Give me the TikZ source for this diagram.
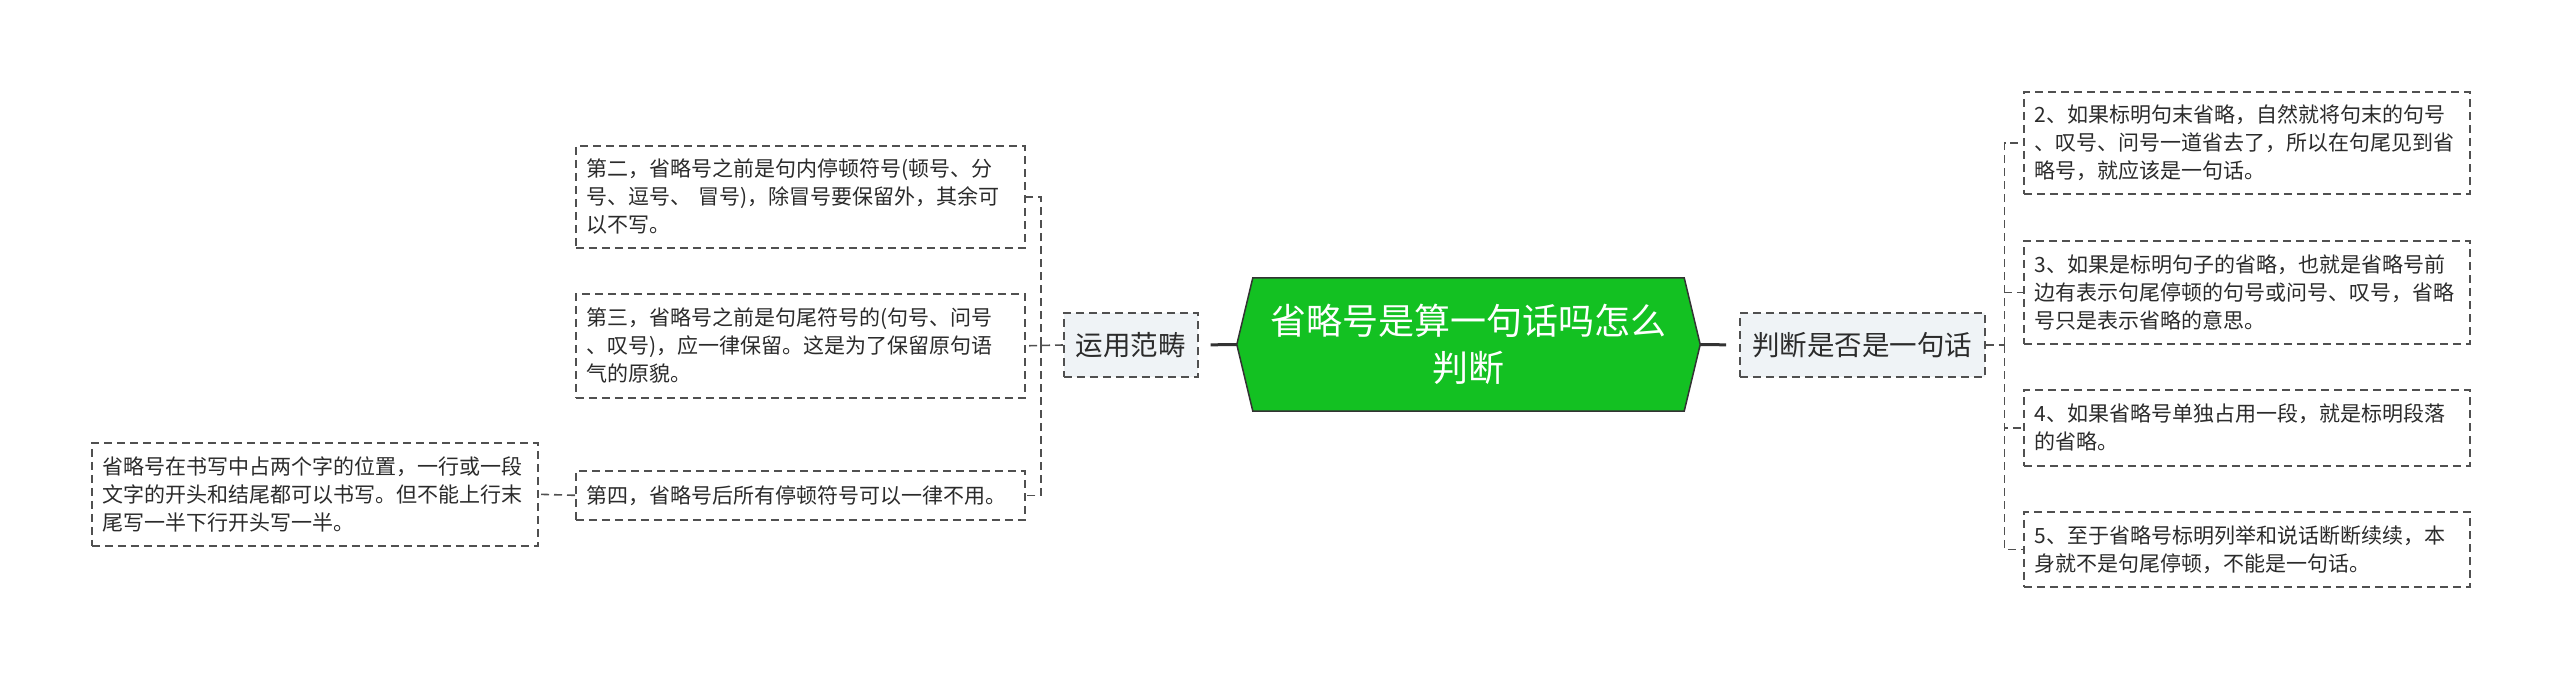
\documentclass[tikz,border=0pt]{standalone}
\usepackage{fontspec}
\newfontfamily\cjk{Noto Sans CJK SC}
\usetikzlibrary{backgrounds,calc}
\definecolor{lineC}{HTML}{505050}
\definecolor{txtC}{HTML}{2B2B2B}
\definecolor{hexG}{HTML}{13C122}
\definecolor{subF}{HTML}{EFF3F6}
\definecolor{mainC}{HTML}{333333}
\begin{document}
\begin{tikzpicture}[x=1pt,y=-1pt,
  leaf/.style={draw=lineC, line width=1.6pt, dash pattern=on 8pt off 5pt,
    anchor=north west, align=left, inner xsep=11pt, inner ysep=0pt,
    text=txtC, font=\cjk\fontsize{21}{28}\selectfont},
  sub/.style={draw=lineC, line width=1.6pt, dash pattern=on 8pt off 5pt,
    fill=subF, text=txtC, font=\cjk\fontsize{27.5}{33}\selectfont,
    minimum height=64pt, inner sep=0pt, anchor=west},
  conn/.style={draw=lineC, line width=1.6pt, dash pattern=on 8pt off 5pt},
  mainl/.style={draw=mainC, line width=3pt}]
\useasboundingbox (0,0) rectangle (2560,677);

% centre
\node[font=\cjk\fontsize{36}{47}\selectfont, text=white, align=center,
  minimum width=431pt, minimum height=133pt, inner sep=0pt] (c) at (1468.5,344.5)
  {省略号是算一句话吗怎么\\判断};
\coordinate (cl) at ($(c.west)+(-16,0)$);
\coordinate (cr) at ($(c.east)+(16,0)$);
\begin{scope}[on background layer]
  \fill[white] (0,0) rectangle (2560,677);
  \draw[fill=hexG, draw=mainC, line width=1.5pt] (c.north west) -- (c.north east) -- (cr)
    -- (c.south east) -- (c.south west) -- (cl) -- cycle;
\end{scope}

% branches
\node[sub, minimum width=134pt] (yy) at (1063,345) {运用范畴};
\node[sub, minimum width=245pt] (pd) at (1739,345) {判断是否是一句话};

% left leaves
\node[leaf, text width=427pt, minimum height=102pt] (b2) at (575,145) {第二，省略号之前是句内停顿符号(顿号、分\\号、逗号、 冒号)，除冒号要保留外，其余可\\以不写。};
\node[leaf, text width=427pt, minimum height=104pt] (b3) at (575,293) {第三，省略号之前是句尾符号的(句号、问号\\、叹号)，应一律保留。这是为了保留原句语\\气的原貌。};
\node[leaf, text width=427pt, minimum height=49pt] (b4) at (575,470) {第四，省略号后所有停顿符号可以一律不用。};
\node[leaf, text width=424pt, minimum height=103pt] (far) at (91,442) {省略号在书写中占两个字的位置，一行或一段\\文字的开头和结尾都可以书写。但不能上行末\\尾写一半下行开头写一半。};

% right leaves
\node[leaf, text width=424pt, minimum height=102pt] (r2) at (2023,91) {2、如果标明句末省略，自然就将句末的句号\\、叹号、问号一道省去了，所以在句尾见到省\\略号，就应该是一句话。};
\node[leaf, text width=424pt, minimum height=103pt] (r3) at (2023,240) {3、如果是标明句子的省略，也就是省略号前\\边有表示句尾停顿的句号或问号、叹号，省略\\号只是表示省略的意思。};
\node[leaf, text width=424pt, minimum height=76pt] (r4) at (2023,389) {4、如果省略号单独占用一段，就是标明段落\\的省略。};
\node[leaf, text width=424pt, minimum height=75pt] (r5) at (2023,511) {5、至于省略号标明列举和说话断断续续，本\\身就不是句尾停顿，不能是一句话。};

% connectors
\draw[mainl, shorten <=12pt] (yy.east) -- (cl);
\draw[mainl, shorten >=13pt] (cr) -- (pd.west);

\coordinate (lj) at ($(yy.west)+(-22,0)$);
\draw[conn] (yy.west) -- (b3.east);
\draw[conn] (lj) |- (b2.east);
\draw[conn] (lj) |- (b4.east);
\draw[conn] (b4.west) -- (far.east);

\coordinate (rj) at ($(pd.east)+(19,0)$);
\draw[conn] (pd.east) -- (rj);
\draw[conn] (rj) |- (r2.west);
\draw[conn] (rj) |- (r3.west);
\draw[conn] (rj) |- (r4.west);
\draw[conn] (rj) |- (r5.west);
\end{tikzpicture}
\end{document}
